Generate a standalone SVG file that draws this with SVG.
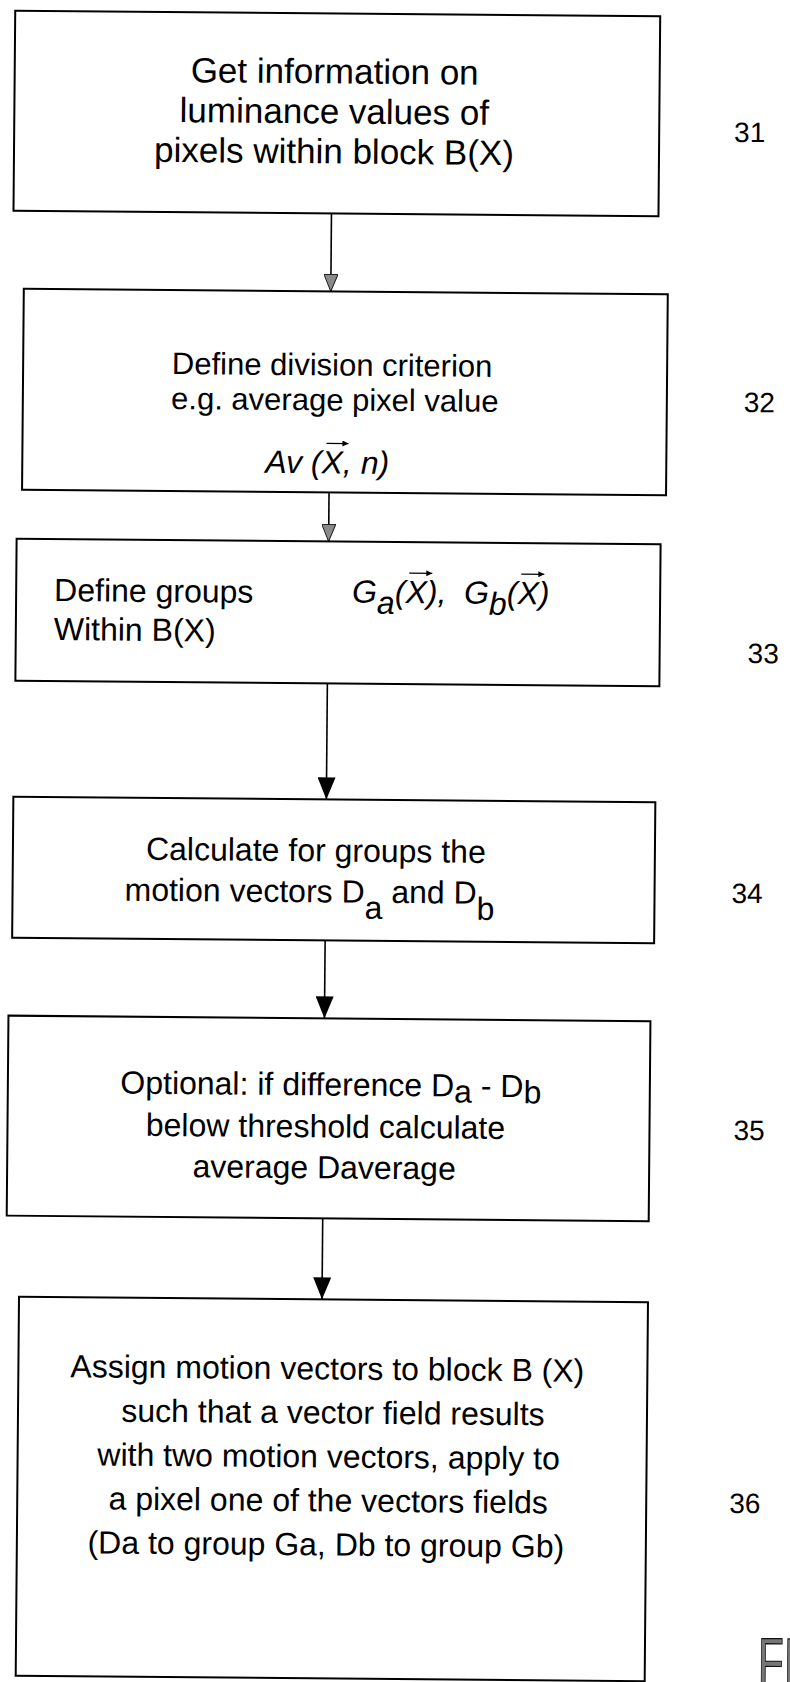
<svg xmlns="http://www.w3.org/2000/svg" width="790" height="1682" viewBox="0 0 790 1682">
  <style>
    .box { fill: #fff; stroke: #000; stroke-width: 2; }
    .txt { font-family: "Liberation Sans", Arial, sans-serif; font-size: 32px; fill: #000; }
    .big { font-size: 35px; }
    .sm { font-size: 31px; }
    .mid { text-anchor: middle; }
    .it { font-style: italic; }
    .ref { font-family: "Liberation Sans", Arial, sans-serif; font-size: 28px; fill: #000; }
    .conn { stroke: #000; stroke-width: 1.6; fill: none; }
    .vec { stroke: #000; stroke-width: 1.3; fill: none; }
  </style>
  <defs>
    <marker id="headGray" viewBox="0 0 17 14" refX="17" refY="7" markerWidth="17" markerHeight="14" markerUnits="userSpaceOnUse" orient="auto">
      <path d="M0,0 L17,7 L0,14 Z" fill="#8a8a8a" stroke="#222" stroke-width="1"/>
    </marker>
    <marker id="headBlack" viewBox="0 0 22 18" refX="22" refY="9" markerWidth="22" markerHeight="18" markerUnits="userSpaceOnUse" orient="auto">
      <path d="M0,0 L22,9 L0,18 Z" fill="#000"/>
    </marker>
    <marker id="vecHead" viewBox="0 0 6 6" refX="6" refY="3" markerWidth="6" markerHeight="6" markerUnits="userSpaceOnUse" orient="auto">
      <path d="M0,0 L6,3 L0,6 Z" fill="#000"/>
    </marker>
  </defs>

  <rect width="790" height="1682" fill="#fff"/>

  <!-- whole sheet sits slightly turned clockwise -->
  <g transform="rotate(0.5 395 841)">

    <g id="connectors">
      <path class="conn" d="M326,214 V292" marker-end="url(#headGray)"/>
      <path class="conn" d="M326,493 V542" marker-end="url(#headGray)"/>
      <path class="conn" d="M326,684 V800" marker-end="url(#headBlack)"/>
      <path class="conn" d="M326,941 V1019" marker-end="url(#headBlack)"/>
      <path class="conn" d="M326,1219 V1300" marker-end="url(#headBlack)"/>
    </g>

    <g id="step31">
      <rect class="box" x="8" y="14" width="645" height="200"/>
      <text class="txt big mid" x="328" y="84">Get information on</text>
      <text class="txt big mid" x="328" y="124">luminance values of</text>
      <text class="txt big mid" x="328" y="164">pixels within block B(X)</text>
      <text class="ref" x="728" y="139">31</text>
    </g>

    <g id="step32">
      <rect class="box" x="19" y="292" width="644" height="201"/>
      <text class="txt sm mid" x="328" y="376">Define division criterion</text>
      <text class="txt sm mid" x="331" y="411">e.g. average pixel value</text>
      <text class="txt it" x="262" y="474">Av (X, n)</text>
      <path class="vec" d="M323,444 H345" marker-end="url(#vecHead)"/>
      <text class="ref" x="740" y="409">32</text>
    </g>

    <g id="step33">
      <rect class="box" x="14" y="542" width="644" height="142"/>
      <text class="txt" x="52" y="604">Define groups</text>
      <text class="txt" x="52" y="643">Within B(X)</text>
      <text class="txt it" x="350" y="603">G<tspan dy="11">a</tspan><tspan dy="-11">(X),</tspan><tspan x="462">G</tspan><tspan dy="11">b</tspan><tspan dy="-11">(X)</tspan></text>
      <path class="vec" d="M407,573 H430" marker-end="url(#vecHead)"/>
      <path class="vec" d="M519,573 H542" marker-end="url(#vecHead)"/>
      <text class="ref" x="746" y="660">33</text>
    </g>

    <g id="step34">
      <rect class="box" x="13" y="800" width="642" height="141"/>
      <text class="txt mid" x="316" y="862">Calculate for groups the</text>
      <text class="txt mid" x="310" y="903">motion vectors D<tspan dy="16">a</tspan><tspan dy="-16"> and D</tspan><tspan dy="16">b</tspan></text>
      <text class="ref" x="732" y="900">34</text>
    </g>

    <g id="step35">
      <rect class="box" x="10" y="1019" width="642" height="200"/>
      <text class="txt mid" x="333" y="1096">Optional: if difference D<tspan dy="6">a</tspan><tspan dy="-6"> - D</tspan><tspan dy="6">b</tspan></text>
      <text class="txt mid" x="328" y="1138">below threshold calculate</text>
      <text class="txt mid" x="327" y="1179">average Daverage</text>
      <text class="ref" x="736" y="1137">35</text>
    </g>

    <g id="step36">
      <rect class="box" x="23" y="1300" width="629" height="379"/>
      <text class="txt mid" x="332" y="1380">Assign motion vectors to block B (X)</text>
      <text class="txt mid" x="338" y="1424">such that a vector field results</text>
      <text class="txt mid" x="334" y="1468">with two motion vectors, apply to</text>
      <text class="txt mid" x="334" y="1512">a pixel one of the vectors fields</text>
      <text class="txt mid" x="332" y="1556">(Da to group Ga, Db to group Gb)</text>
      <text class="ref" x="735" y="1510">36</text>
    </g>

    <g id="figure-tag">
      <text x="0" y="0" transform="translate(765 1682) scale(0.62 1)" font-family="Liberation Sans, Arial, sans-serif" font-size="68" fill="#777" stroke="#111" stroke-width="1.2">FI</text>
    </g>
  </g>
</svg>
